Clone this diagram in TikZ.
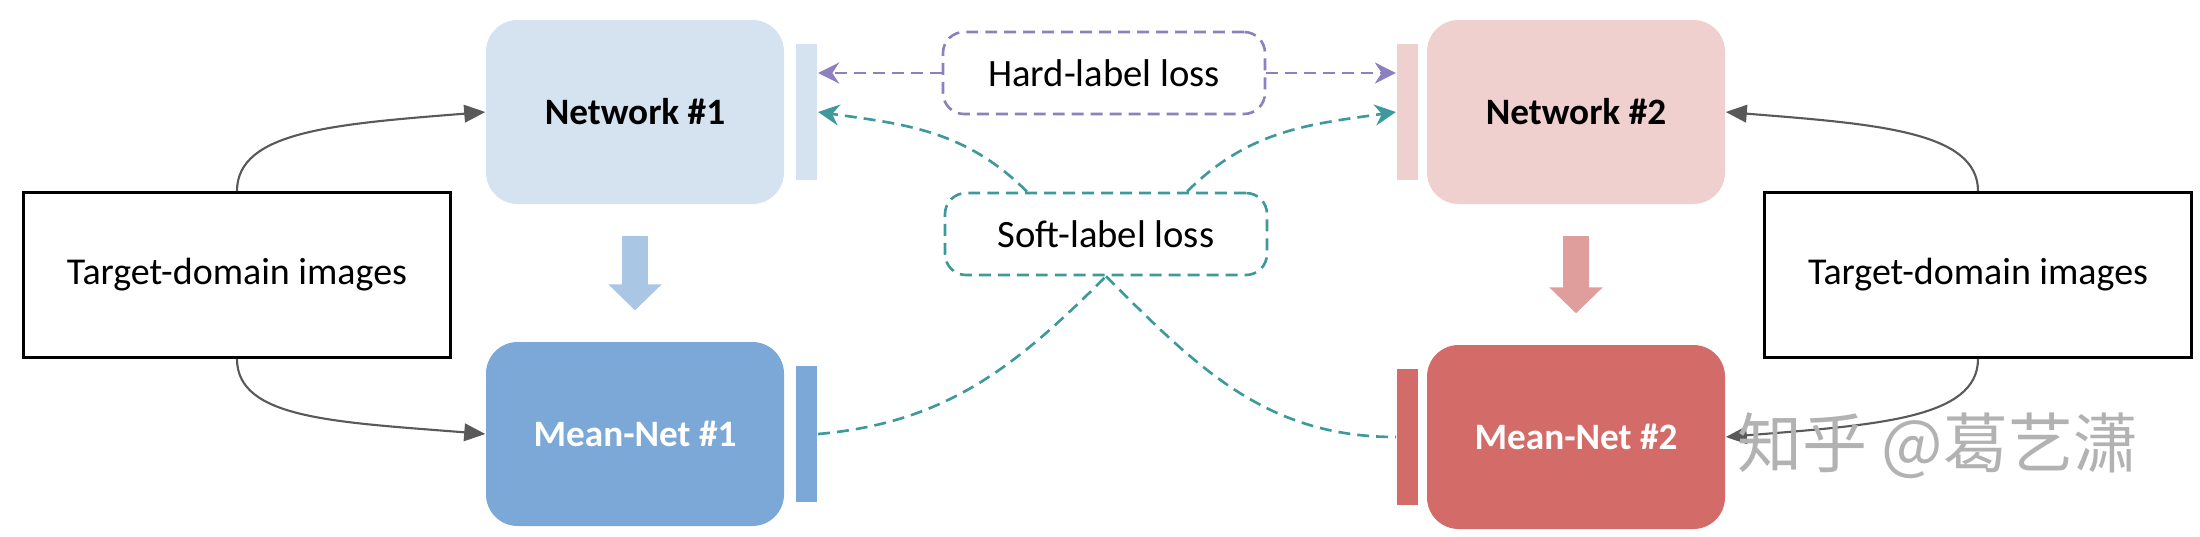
\documentclass[tikz,border=0pt]{standalone}
\usepackage{xcolor}
\usepackage{fontspec}
\setmainfont{Carlito}
\newfontfamily\cjk{Noto Sans CJK SC}
\usepackage{tikz}
\usetikzlibrary{arrows.meta,positioning,calc}

\definecolor{netA}{HTML}{D5E2F0}
\definecolor{meanA}{HTML}{7BA8D6}
\definecolor{netB}{HTML}{F0CFCF}
\definecolor{meanB}{HTML}{D36C68}
\definecolor{pushA}{HTML}{A9C6E4}
\definecolor{pushB}{HTML}{DF9D9C}
\definecolor{hardc}{HTML}{8E80BF}
\definecolor{softc}{HTML}{3E999D}
\definecolor{feedc}{HTML}{595959}

\tikzset{
  net/.style={rounded corners=9pt,minimum width=29.8mm,minimum height=18.4mm,inner sep=0pt,font=\fontsize{10.6}{12}\selectfont\bfseries},
  bar/.style={minimum width=2.1mm,minimum height=13.6mm,inner sep=0pt},
  imgbox/.style={draw=black,line width=0.8pt,minimum width=42.7mm,minimum height=16.5mm,font=\fontsize{10.8}{13}\selectfont},
  lossbox/.style={draw,dashed,dash pattern=on 3.4pt off 2pt,line width=0.75pt,rounded corners=6pt,minimum width=32.2mm,minimum height=8.2mm,font=\fontsize{11}{13}\selectfont},
  feed/.style={draw=feedc,line width=0.6pt,-{Triangle[length=6pt,width=5pt]}},
  hardline/.style={draw=hardc,line width=0.75pt,dash pattern=on 3.4pt off 2pt,-{Stealth[length=6pt,width=6pt]}},
  softline/.style={draw=softc,line width=0.75pt,dash pattern=on 3.4pt off 2pt},
  push/.style={line width=7.6pt,-{Triangle[length=7.4pt,width=14.8pt]},shorten <=3.1mm,shorten >=3.1mm}
}

\begin{document}
\begin{tikzpicture}[x=0.1mm,y=-0.1mm]
\useasboundingbox (0,0) rectangle (2200,536);

% inputs
\node[imgbox] (tgtL) at (237,275) {Target-domain images};
\node[imgbox] (tgtR) at (1978,275) {Target-domain images};

% the two branches
\node[net,fill=netA] (net1) at (635,112) {Network \#1};
\node[bar,fill=netA,right=1.1mm of net1] (bar1) {};
\node[net,fill=meanA,text=white] (mean1) at (635,434) {Mean-Net \#1};
\node[bar,fill=meanA,right=1.1mm of mean1] (mbar1) {};

\node[net,fill=netB] (net2) at (1576,112) {Network \#2};
\node[bar,fill=netB,left=0.8mm of net2] (bar2) {};
\node[net,fill=meanB,text=white] (mean2) at (1576,437) {Mean-Net \#2};
\node[bar,fill=meanB,left=0.8mm of mean2] (mbar2) {};

% losses
\node[lossbox,draw=hardc] (hard) at (1104,73) {Hard-label loss};
\node[lossbox,draw=softc] (soft) at (1106,234) {Soft-label loss};

% temporal average
\draw[push,pushA] (net1) -- (mean1);
\draw[push,pushB] (net2) -- (mean2);

% images to networks
\draw[feed] (tgtL.north) .. controls +(0,-60) and +(-150,12) .. (net1.west);
\draw[feed] (tgtL.south) .. controls +(0,60) and +(-150,-12) .. (mean1.west);
\draw[feed] (tgtR.north) .. controls +(0,-60) and +(150,12) .. (net2.east);
\draw[feed] (tgtR.south) .. controls +(0,60) and +(150,-12) .. (mean2.east);

% hard-label loss
\draw[hardline] (hard.west) -- (bar1.east |- hard.west);
\draw[hardline] (hard.east) -- (bar2.west |- hard.east);

% soft-label loss
\draw[softline,-{Stealth[length=6pt,width=6pt]}] ($(soft.north)+(-79,0)$) to[out=135,in=-8] (bar1.east);
\draw[softline,-{Stealth[length=6pt,width=6pt]}] ($(soft.north)+(81,0)$) to[out=45,in=188] (bar2.west);
\draw[softline] (mbar1.east) to[out=5,in=225] (soft.south);
\draw[softline] (soft.south) to[out=-45,in=180] (mbar2.west);

% watermark
\node[text=black!30,font=\cjk\fontsize{18.5}{20}\selectfont] (mark) at (1938,446) {知乎 @葛艺潇};
\end{tikzpicture}
\end{document}
